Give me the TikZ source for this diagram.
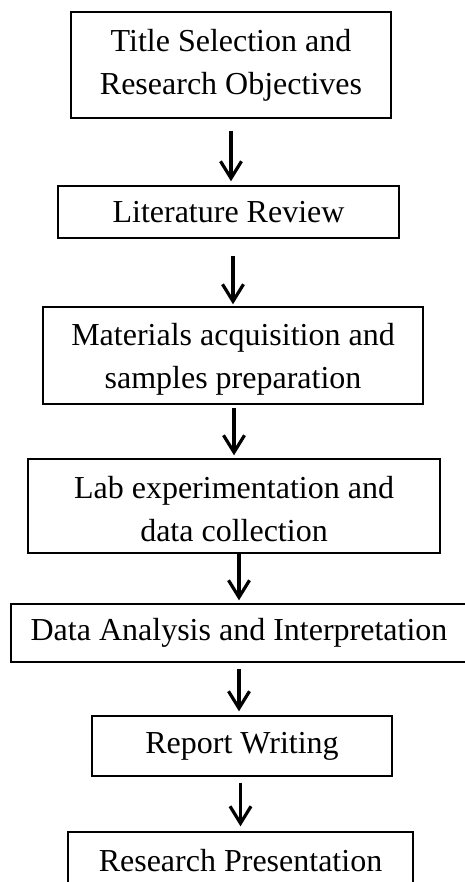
\documentclass[tikz,border=0pt]{standalone}
\usepackage{fontspec}
\setmainfont{Liberation Serif}
\usetikzlibrary{arrows.meta}

\begin{document}
\begin{tikzpicture}[x=1pt, y=-1pt,
    stage/.style={draw, line width=1.4pt, align=center, inner sep=0pt,
                  font=\fontsize{32}{43}\selectfont},
    flow/.style={line width=3.2pt,
                 -{Straight Barb[length=17pt, width=21pt, line width=3.2pt]}}]
  \clip (0,0) rectangle (465,882);
  \useasboundingbox (0,0) rectangle (465,882);

  \node[stage, minimum width=320pt, minimum height=106pt] (t1) at (231,65)
      {Title Selection and\\Research Objectives};
  \node[stage, minimum width=341pt, minimum height=52pt] (t2) at (228.5,212)
      {Literature Review};
  \node[stage, minimum width=380pt, minimum height=97pt] (t3) at (233,355.5)
      {\rule{0pt}{30pt}Materials acquisition and\\samples preparation};
  \node[stage, minimum width=412pt, minimum height=94pt] (t4) at (234,506)
      {\rule{0pt}{28pt}Lab experimentation and\\data collection};
  \node[stage, minimum width=456pt, minimum height=58pt] (t5) at (239,633)
      {Data Analysis and Interpretation};
  \node[stage, minimum width=300pt, minimum height=60pt] (t6) at (242,746)
      {Report Writing};
  \node[stage, minimum width=345pt, minimum height=58pt] (t7) at (240.5,861)
      {Research Presentation};

  % arrows between the stages
  \draw[flow, shorten <=12pt, shorten >=4pt] (t1.south) -- (t1.south |- t2.north);
  \draw[flow, shorten <=17pt, shorten >=2pt] (t2.south -| t3.north) -- (t3.north);
  \draw[flow, shorten <=3pt, shorten >=3pt] (t3.south -| t4.north) -- (t4.north);
  \draw[flow, shorten <=0pt, shorten >=3pt] (t4.south -| t5.north) -- (t5.north);
  \draw[flow, shorten <=6pt, shorten >=4pt] (t5.south) -- (t5.south |- t6.north);
  \draw[flow, shorten <=6pt, shorten >=5pt] (t6.south -| t7.north) -- (t7.north);
\end{tikzpicture}
\end{document}
